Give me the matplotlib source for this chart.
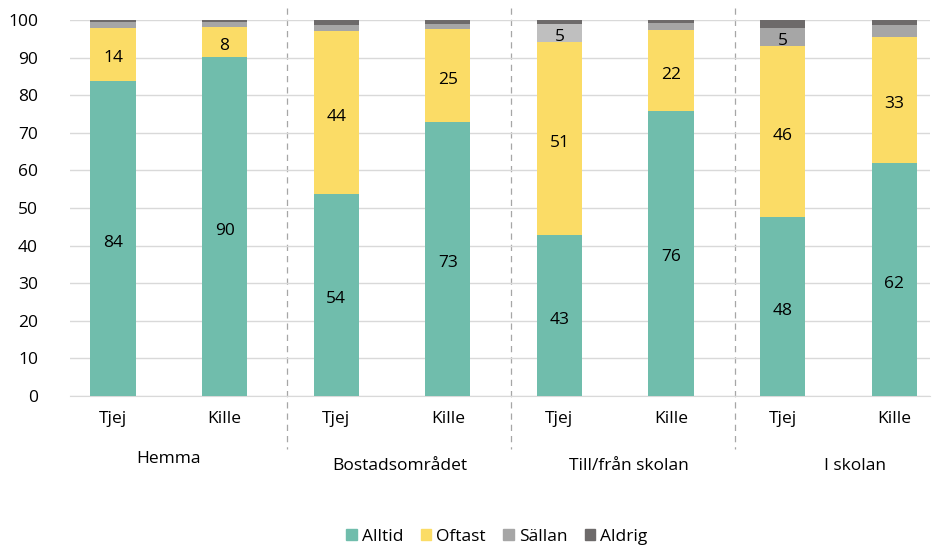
import matplotlib
matplotlib.use("Agg")
import matplotlib.pyplot as plt
import numpy as np

plt.rcParams['font.family'] = ['Open Sans', 'DejaVu Sans']

groups = ["Hemma", "Bostadsområdet", "Till/från skolan", "I skolan"]
genders = ["Tjej", "Kille"]
alltid = [83.8, 90.2, 53.6, 72.9, 42.8, 75.9, 47.5, 62.0]
oftast = [14.2, 7.9, 43.6, 24.6, 51.4, 21.4, 45.7, 33.4]
sallan = [1.5, 1.4, 1.6, 1.4, 4.7, 2.0, 4.7, 3.4]
aldrig = [0.5, 0.5, 1.2, 1.1, 1.1, 0.7, 2.1, 1.2]
label_alltid = ["84", "90", "54", "73", "43", "76", "48", "62"]
label_oftast = ["14", "8", "44", "25", "51", "22", "46", "33"]
label_sallan = ["", "", "", "", "5", "", "5", ""]

series = ["Alltid", "Oftast", "Sällan", "Aldrig"]
colors = {"Alltid": "#70bdac", "Oftast": "#fbdc66", "Sällan": "#a6a6a6", "Aldrig": "#6d6a6a"}

FS = 12.5

fig = plt.figure(figsize=(9.39, 5.46), dpi=100)
ax = fig.add_axes([70/939, 1-396/546, (930-70)/939, (396-20)/546])

x = np.arange(8)
w = 0.405
sallan_colors = [colors["Sällan"]] * 8
sallan_colors[4] = "#bfbfbf"

b1 = ax.bar(x, alltid, w, color=colors["Alltid"], label="Alltid", zorder=3)
bot = np.array(alltid)
b2 = ax.bar(x, oftast, w, bottom=bot, color=colors["Oftast"], label="Oftast", zorder=3)
bot = bot + np.array(oftast)
b3 = ax.bar(x, sallan, w, bottom=bot, color=sallan_colors, label="Sällan", zorder=3)
bot = bot + np.array(sallan)
b4 = ax.bar(x, aldrig, w, bottom=bot, color=colors["Aldrig"], label="Aldrig", zorder=3)

def put_labels(container, labels):
    for rect, lab in zip(container.patches, labels):
        if not lab:
            continue
        cx = rect.get_x() + rect.get_width() / 2
        cy = rect.get_y() + rect.get_height() / 2
        ax.annotate(lab, (cx, cy), xytext=(0, -3), textcoords="offset points",
                    ha="center", va="center", fontsize=FS, color="#000000", zorder=5)

put_labels(b1, label_alltid)
put_labels(b2, label_oftast)
put_labels(b3, label_sallan)

ax.set_ylim(0, 100)
ax.set_xlim((70-113)/111.6, (930-113)/111.6)
ax.set_yticks(range(0, 101, 10))
ax.grid(axis="y", color="#d9d9d9", linewidth=1, zorder=0)
for s in ["top", "right", "left"]:
    ax.spines[s].set_visible(False)
ax.spines["bottom"].set_color("#d9d9d9")
ax.tick_params(axis="both", length=0, labelsize=FS, colors="#000000")
ax.tick_params(axis="x", pad=11)
ax.tick_params(axis="y", pad=23)
ax.set_xticks(x)
ax.set_xticklabels(genders * 4)

# separators
sep_px = [287, 511, 735]
for px in sep_px:
    xd = (px - 113) / 111.6
    ax.plot([xd, xd], [103.2, -14.0], color="#a6a6a6", linestyle=(0, (5, 4)),
            linewidth=0.9, clip_on=False, zorder=1)

# group labels
grp_px = [168, 400, 629, 855]
grp_y = [-16.8, -18.6, -18.6, -18.6]
for g, px, yy in zip(groups, grp_px, grp_y):
    ax.text((px - 113) / 111.6, yy, g, ha="center", va="center", fontsize=FS,
            color="#000000", clip_on=False)

handles = [b1, b2, b3, b4]
leg = fig.legend(handles, series, loc="center", bbox_to_anchor=(497/939, 1-537/546),
                 ncol=4, frameon=False, fontsize=FS, handlelength=0.6, handleheight=0.6,
                 handletextpad=0.3, columnspacing=1.0)
for h in leg.legend_handles:
    h.set_color(colors[h.get_label()] if h.get_label() in colors else h.get_facecolor())
fig.savefig("out.png", dpi=100)
